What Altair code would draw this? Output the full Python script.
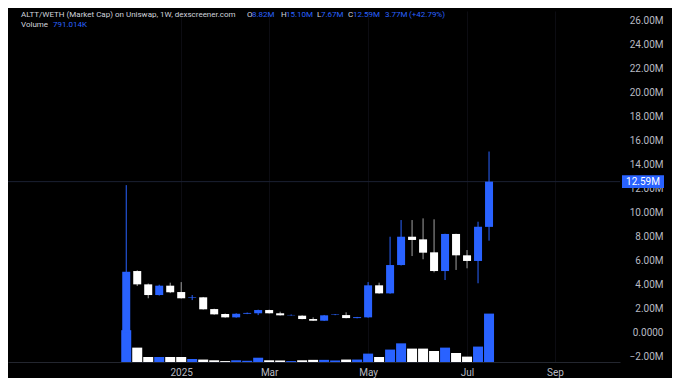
import altair as alt
import pandas as pd

# ---- data (market cap in millions, volume in thousands) ----
dates = ["2024-12-02", "2024-12-09", "2024-12-16", "2024-12-23", "2024-12-30",
         "2025-01-06", "2025-01-13", "2025-01-20", "2025-01-27", "2025-02-03",
         "2025-02-10", "2025-02-17", "2025-02-24", "2025-03-03", "2025-03-10",
         "2025-03-17", "2025-03-24", "2025-03-31", "2025-04-07", "2025-04-14",
         "2025-04-21", "2025-04-28", "2025-05-05", "2025-05-12", "2025-05-19",
         "2025-05-26", "2025-06-02", "2025-06-09", "2025-06-16", "2025-06-23",
         "2025-06-30", "2025-07-07", "2025-07-14", "2025-07-21"]
opens = [0.05, 5.14, 4.03, 3.14, 3.92, 3.39, 2.92, 2.95, 1.97, 1.56,
         1.28, 1.58, 1.62, 1.89, 1.62, 1.45, 1.42, 1.14, 1.00, 1.48,
         1.47, 1.22, 1.28, 3.95, 3.28, 5.64, 8.00, 7.78, 6.70, 5.14,
         8.23, 6.45, 5.98, 8.82]
highs = [12.30, 5.20, 4.10, 4.00, 4.17, 4.22, 3.14, 2.98, 2.00, 1.60,
         1.62, 1.68, 1.92, 1.92, 1.75, 1.52, 1.45, 1.28, 1.48, 1.56,
         1.70, 1.32, 4.22, 4.17, 8.00, 9.39, 9.39, 9.53, 9.45, 8.25,
         8.25, 6.89, 9.25, 15.10]
lows = [0.00, 3.89, 2.87, 3.10, 3.30, 2.85, 2.72, 1.93, 1.50, 1.25,
        1.25, 1.55, 1.47, 1.60, 1.43, 1.42, 1.12, 0.98, 0.98, 1.46,
        1.20, 1.20, 1.25, 3.25, 3.25, 5.60, 6.39, 6.12, 5.03, 4.39,
        5.23, 5.37, 4.12, 7.67]
closes = [5.08, 4.03, 3.14, 3.92, 3.37, 2.87, 2.97, 1.95, 1.53, 1.28,
          1.58, 1.65, 1.89, 1.62, 1.45, 1.48, 1.14, 1.00, 1.45, 1.52,
          1.22, 1.30, 3.95, 3.28, 5.64, 8.00, 7.73, 6.67, 5.14, 8.23,
          6.45, 5.98, 8.83, 12.59]
volumes = [520, 235, 82, 82, 82, 82, 49, 40, 28, 15,
           28, 20, 70, 28, 25, 15, 28, 35, 35, 25,
           40, 40, 137, 82, 203, 305, 219, 219, 180, 235,
           147, 88, 252, 791]

last_price = [12.59]
y_ticks = [-2, 0, 2, 4, 6, 8, 10, 12, 14, 16, 18, 20, 22, 24, 26]

df = pd.DataFrame({"date": dates, "open": opens, "high": highs,
                   "low": lows, "close": closes, "vol": volumes})
last_df = pd.DataFrame({"price": last_price})

BLUE = "#2962ff"
WHITE = "#ffffff"
FONT = "Roboto"

# ---- scales ----
DAY = 86400000
JAN6 = 1736121600000  # 2025-01-06 UTC
PX_PER_DAY = 380 / 238
W, H = 612, 351
x_domain = [JAN6 - 171 / PX_PER_DAY * DAY, JAN6 + (W - 171) / PX_PER_DAY * DAY]
x_ticks = [JAN6, JAN6 + 56 * DAY, JAN6 + 119 * DAY, JAN6 + 182 * DAY, JAN6 + 238 * DAY]

xscale = alt.Scale(type="utc", domain=x_domain)
yscale = alt.Scale(domain=[-2.44, 26.81], nice=False, zero=False)

x_axis = alt.Axis(values=x_ticks, title=None, grid=True, gridColor="#0c0c12",
                  domain=True, domainColor="#23262f", ticks=False,
                  labelPadding=5, labelFontSize=10, labelColor="#b8bac2",
                  labelFont=FONT,
                  labelExpr="utcFormat(datum.value, '%m') == '01' ? utcFormat(datum.value, '%Y') : utcFormat(datum.value, '%b')")
y_axis = alt.Axis(orient="right", values=y_ticks, title=None, grid=False,
                  domain=False, ticks=False, labelAlign="right",
                  labelBaseline="middle", labelPadding=43, labelFontSize=10,
                  labelColor="#b8bac2", labelFont=FONT,
                  labelExpr="datum.value == 0 ? '0.0000' : format(datum.value, '.2f') + 'M'")

X = alt.X("date:T", scale=xscale, axis=x_axis)

color_cond = alt.condition("datum.close >= datum.open", alt.value(BLUE), alt.value(WHITE))
wick_cond = alt.condition("datum.close >= datum.open", alt.value(BLUE), alt.value("#a0a0a0"))

base = alt.Chart(df)

volume = base.mark_bar(size=10).encode(
    x=X,
    y=alt.Y("vol:Q", scale=alt.Scale(domain=[0, 5737], nice=False), axis=None),
    color=color_cond,
)

price_line = alt.Chart(last_df).mark_rule(color="#1b2033", strokeWidth=1).encode(
    y=alt.Y("price:Q", scale=yscale, axis=y_axis),
    x=alt.value(0), x2=alt.value(W),
)

wicks = base.mark_rule(strokeWidth=1).encode(
    x=X,
    y=alt.Y("low:Q", scale=yscale, axis=y_axis),
    y2="high:Q",
    color=wick_cond,
)

bodies = base.mark_bar(size=8).encode(
    x=X,
    y=alt.Y("open:Q", scale=yscale, axis=y_axis),
    y2="close:Q",
    color=color_cond,
)

label_box = alt.Chart(last_df).transform_calculate(
    lo="datum.price - 0.53", hi="datum.price + 0.53"
).mark_rect(color=BLUE).encode(
    x=alt.value(614), x2=alt.value(656),
    y=alt.Y("lo:Q", scale=yscale, axis=y_axis), y2="hi:Q",
)
label_text = alt.Chart(last_df).transform_calculate(
    t="format(datum.price, '.2f') + 'M'"
).mark_text(color="white", fontSize=10, font=FONT, align="center", baseline="middle").encode(
    x=alt.value(635), y=alt.Y("price:Q", scale=yscale, axis=y_axis), text="t:N",
)

header_items = [
    ("ALTT/WETH (Market Cap) on Uniswap, 1W, dexscreener.com", 13, 3.5, "#d1d4dc"),
    ("O", 239, 3.5, "#d1d4dc"), ("8.82M", 244, 3.5, BLUE),
    ("H", 273, 3.5, "#d1d4dc"), ("15.10M", 278, 3.5, BLUE),
    ("L", 309, 3.5, "#d1d4dc"), ("7.67M", 313, 3.5, BLUE),
    ("C", 340, 3.5, "#d1d4dc"), ("12.59M", 345, 3.5, BLUE),
    ("3.77M", 377, 3.5, BLUE), ("(+42.79%)", 401, 3.5, BLUE),
    ("Volume", 13, 13.7, "#d1d4dc"), ("791.014K", 45, 13.7, BLUE),
]
header_layers = [
    alt.Chart(last_df).mark_text(text=t, color=c, fontSize=8, font=FONT,
                                 align="left", baseline="middle").encode(
        x=alt.value(xp), y=alt.value(yp))
    for t, xp, yp, c in header_items
]

price_layer = alt.layer(price_line, wicks, bodies, label_box, label_text, *header_layers)

chart = alt.layer(volume, price_layer).resolve_scale(y="independent").properties(
    width=W, height=H,
    background="#000000",
    padding={"left": 0, "top": 3, "right": 52, "bottom": 16},
    autosize=alt.AutoSizeParams(type="none"),
).configure_view(stroke=None)

chart.save("out.html", embed_options={"renderer": "svg", "actions": False})
